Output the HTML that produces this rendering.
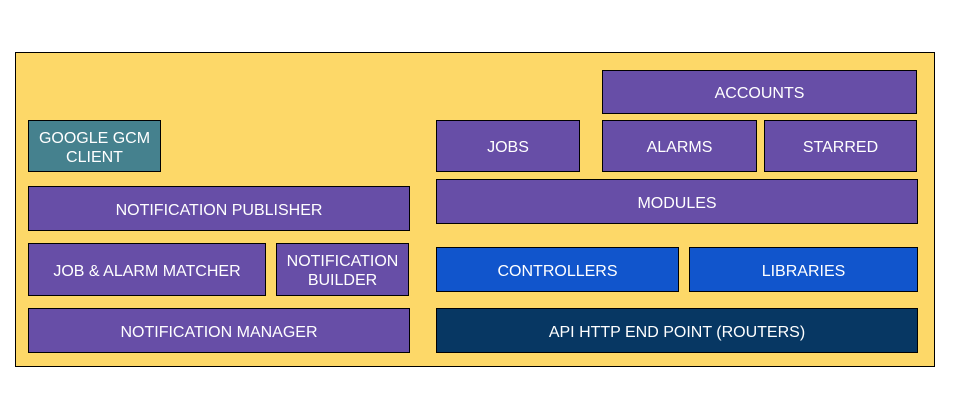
<!DOCTYPE html>
<html><head><style>
body{margin:0;width:955px;height:408px;background:#fff;position:relative;overflow:hidden;font-family:"Liberation Sans",Arial,sans-serif}
.b{position:absolute;box-sizing:border-box;border:1px solid #000;display:flex;align-items:center;justify-content:center;text-align:center;color:#fff;font-size:16px;line-height:19px;padding-top:3px}
.p{background:#674ea7}
</style></head><body>
<div class="b" style="left:15px;top:52px;width:920px;height:315px;background:#fdd868"></div>
<div class="b" style="left:28px;top:120px;width:133px;height:52px;background:#45818e">GOOGLE GCM<br>CLIENT</div>
<div class="b p" style="left:28px;top:186px;width:382px;height:45px">NOTIFICATION PUBLISHER</div>
<div class="b p" style="left:28px;top:243px;width:238px;height:53px">JOB &amp; ALARM MATCHER</div>
<div class="b p" style="left:276px;top:243px;width:133px;height:53px">NOTIFICATION<br>BUILDER</div>
<div class="b p" style="left:28px;top:308px;width:382px;height:45px">NOTIFICATION MANAGER</div>
<div class="b p" style="left:602px;top:70px;width:315px;height:44px">ACCOUNTS</div>
<div class="b p" style="left:436px;top:120px;width:144px;height:52px">JOBS</div>
<div class="b p" style="left:602px;top:120px;width:155px;height:52px">ALARMS</div>
<div class="b p" style="left:764px;top:120px;width:153px;height:52px">STARRED</div>
<div class="b p" style="left:436px;top:179px;width:482px;height:45px">MODULES</div>
<div class="b" style="left:436px;top:247px;width:243px;height:45px;background:#1155cc">CONTROLLERS</div>
<div class="b" style="left:689px;top:247px;width:229px;height:45px;background:#1155cc">LIBRARIES</div>
<div class="b" style="left:436px;top:308px;width:482px;height:45px;background:#073763">API HTTP END POINT (ROUTERS)</div>
</body></html>
